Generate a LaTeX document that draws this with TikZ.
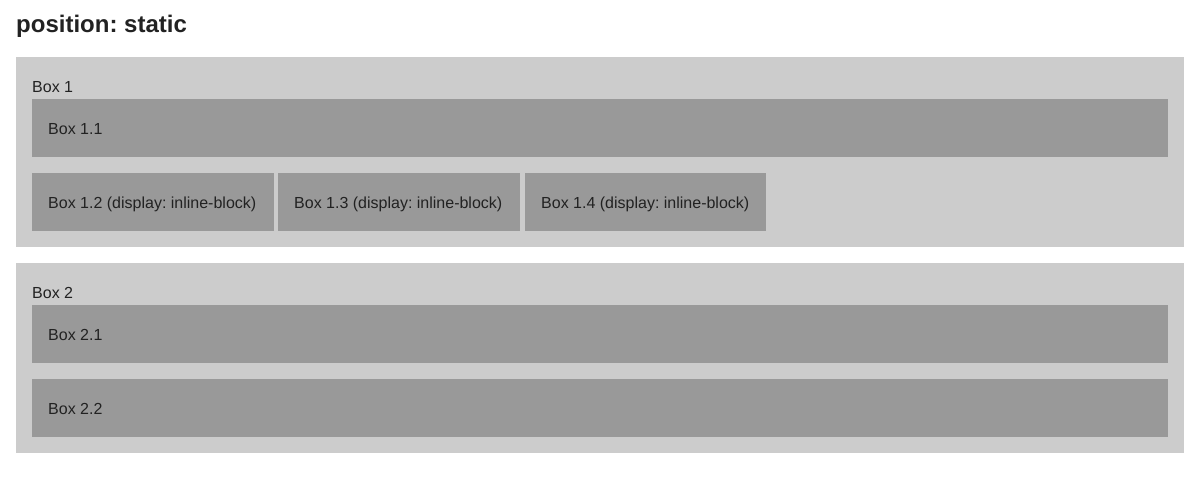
\documentclass[tikz,border=0pt]{standalone}
\usepackage{fontspec}
\setmainfont{Liberation Sans}
\frenchspacing
\definecolor{outerbg}{HTML}{CCCCCC}
\definecolor{innerbg}{HTML}{999999}
\definecolor{ink}{HTML}{222222}
\begin{document}
\begin{tikzpicture}[x=1pt,y=-1pt,
  outer/.style={fill=outerbg,draw=none},
  inner/.style={fill=innerbg,draw=none},
  lbl/.style={anchor=base west,inner sep=0pt,text=ink,font=\fontsize{16}{19}\selectfont},
  ttl/.style={anchor=base west,inner sep=0pt,text=ink,font=\fontsize{24}{28}\selectfont\bfseries}]
\useasboundingbox[fill=white] (0,0) rectangle (1200,480);
% heading
\node[ttl] (title) at (16,32.5) {position: static};
% first container with its children
\fill[outer] (16,57) rectangle (1184,247);
\node[lbl] (b1) at (32,92.5) {Box 1};
\fill[inner] (32,99) rectangle (1168,157);
\node[lbl] (b11) at (48,134) {Box 1.1};
\fill[inner] (32,173) rectangle (273.5,231);
\node[lbl] (b12) at (48,208) {Box 1.2 (display: inline-block)};
\fill[inner] (278,173) rectangle (520,231);
\node[lbl] (b13) at (294,208) {Box 1.3 (display: inline-block)};
\fill[inner] (525,173) rectangle (766,231);
\node[lbl] (b14) at (541,208) {Box 1.4 (display: inline-block)};
% second container with its children
\fill[outer] (16,263) rectangle (1184,453);
\node[lbl] (b2) at (32,298.5) {Box 2};
\fill[inner] (32,305) rectangle (1168,363);
\node[lbl] (b21) at (48,340) {Box 2.1};
\fill[inner] (32,379) rectangle (1168,437);
\node[lbl] (b22) at (48,414) {Box 2.2};
\end{tikzpicture}
\end{document}
